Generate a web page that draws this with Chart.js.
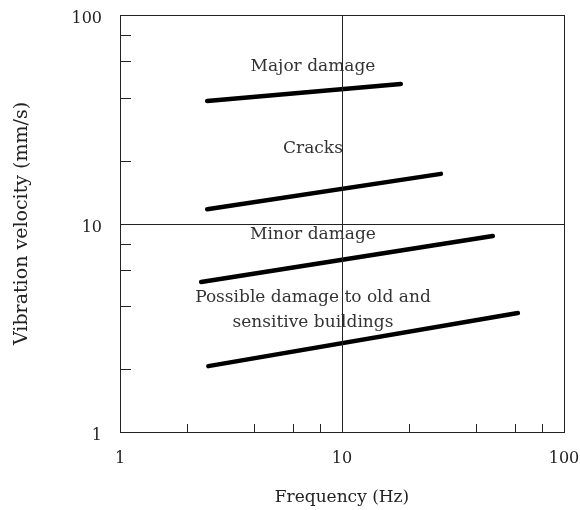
<!DOCTYPE html>
<html>
<head>
<meta charset="utf-8">
<script src="https://cdn.jsdelivr.net/npm/chart.js@4.4.0/dist/chart.umd.min.js"></script>
<style>
	html, body { margin: 0; padding: 0; background: #fff; }
	#wrap { width: 580px; height: 510px; }
</style>
</head>
<body>
<div id="wrap"><canvas id="grafico" width="580" height="510"></canvas></div>
<script>
// Umbrales de daño por vibración (log-log)
const etiquetas = ["Major damage", "Cracks", "Minor damage", ["Possible damage to old and", "sensitive buildings"]];
const frecInicio = [2.47, 2.47, 2.32, 2.5];
const frecFin = [18.4, 27.9, 47.8, 62];
const velInicio = [38.7, 11.7, 5.24, 2.07];
const velFin = [46.7, 17.3, 8.71, 3.72];

// posición de cada texto (en Hz y mm/s)
const textoFrec = [7.4, 7.4, 7.4, 7.4];
const textoVel = [56.5, 23, 8.8, 4.4];

const marcasPrincipales = [1, 10, 100];
const marcasMenores = [2, 4, 6, 8, 20, 40, 60, 80];

const fuente = "'DejaVu Serif', serif";

const datasets = etiquetas.map((et, i) => ({
	label: Array.isArray(et) ? et.join(" ") : et,
	data: [
		{ x: frecInicio[i], y: velInicio[i] },
		{ x: frecFin[i], y: velFin[i] }
	],
	showLine: true,
	borderColor: "#000",
	borderWidth: 4.5,
	borderCapStyle: "round",
	pointRadius: 0
}));

// marco, marcas interiores, líneas en 10 y textos
const decorado = {
	id: "decorado",
	afterDatasetsDraw(chart) {
		const { ctx, chartArea: a, scales: { x, y } } = chart;
		ctx.save();
		ctx.strokeStyle = "#222";
		ctx.lineWidth = 1;
		ctx.beginPath();
		marcasMenores.forEach(v => {
			const px = Math.round(x.getPixelForValue(v)) + 0.5;
			ctx.moveTo(px, a.bottom);
			ctx.lineTo(px, a.bottom - 8);
			const py = Math.round(y.getPixelForValue(v)) + 0.5;
			ctx.moveTo(a.left, py);
			ctx.lineTo(a.left + 11, py);
		});
		const x10 = Math.round(x.getPixelForValue(10)) + 0.5;
		const y10 = Math.round(y.getPixelForValue(10)) + 0.5;
		ctx.moveTo(x10, a.top);
		ctx.lineTo(x10, a.bottom);
		ctx.moveTo(a.left, y10);
		ctx.lineTo(a.right, y10);
		ctx.stroke();
		ctx.strokeRect(Math.round(a.left) + 0.5, Math.round(a.top) + 0.5, Math.round(a.right - a.left), Math.round(a.bottom - a.top));

		ctx.fillStyle = "#333";
		ctx.font = "17px " + fuente;
		ctx.textAlign = "center";
		ctx.textBaseline = "middle";
		etiquetas.forEach((et, i) => {
			const lineas = Array.isArray(et) ? et : [et];
			const px = x.getPixelForValue(textoFrec[i]);
			const py = y.getPixelForValue(textoVel[i]);
			lineas.forEach((l, k) => ctx.fillText(l, px, py + k * 25));
		});
		ctx.restore();
	}
};

const sinRelleno = s => {
	s.paddingTop = 0;
	s.paddingBottom = 0;
	s.paddingLeft = 0;
	s.paddingRight = 0;
};

new Chart(document.getElementById("grafico"), {
	type: "scatter",
	data: { datasets },
	options: {
		responsive: false,
		animation: false,
		layout: { padding: { top: 15, right: 16, left: 0, bottom: 0 } },
		plugins: { legend: { display: false }, tooltip: { enabled: false } },
		scales: {
			x: {
				type: "logarithmic",
				min: 1,
				max: 100,
				afterBuildTicks: s => { s.ticks = marcasPrincipales.map(v => ({ value: v })); },
				afterFit: s => { s.height = 78; sinRelleno(s); },
				grid: { display: false },
				border: { display: false },
				ticks: {
					color: "#222",
					font: { family: fuente, size: 16 },
					padding: 9,
					maxRotation: 0,
					callback: v => String(v)
				},
				title: {
					display: true,
					text: "Frequency (Hz)",
					color: "#222",
					font: { family: fuente, size: 17 },
					padding: { top: 0, bottom: 2 }
				}
			},
			y: {
				type: "logarithmic",
				min: 1,
				max: 100,
				afterBuildTicks: s => { s.ticks = marcasPrincipales.map(v => ({ value: v })); },
				afterFit: s => { s.width = 120; sinRelleno(s); },
				grid: { display: false },
				border: { display: false },
				ticks: {
					color: "#222",
					font: { family: fuente, size: 16 },
					padding: 10,
					labelOffset: 4,
					callback: v => String(v)
				},
				title: {
					display: true,
					text: "Vibration velocity (mm/s)",
					color: "#222",
					font: { family: fuente, size: 19 },
					padding: { top: 11, bottom: 0 }
				}
			}
		}
	},
	plugins: [decorado]
});
</script>
</body>
</html>
